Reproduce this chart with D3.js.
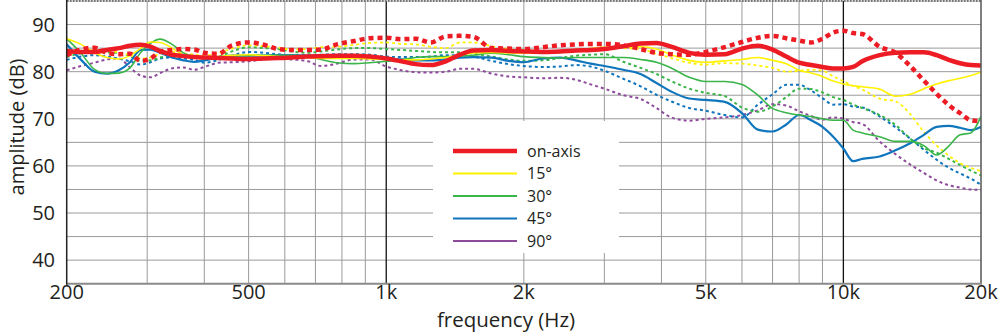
<!DOCTYPE html>
<html><head><meta charset="utf-8">
<script src="https://cdn.jsdelivr.net/npm/d3@7"></script>
<style>html,body{margin:0;padding:0;background:#fff;}svg{display:block;}</style>
</head><body>
<svg id="chart" width="1000" height="332"></svg>
<script>
// ---------- data ----------
const freqs = [200,215,230,245,260,275,290,305,
  320,340,360,380,400,
  430,460,500,540,580,620,670,720,780,850,920,
  1000,1080,1160,1250,1350,1450,1550,1700,1850,
  2000,2200,2400,2600,2800,3000,3300,3600,3900,4200,4600,
  5000,5500,6000,6500,7000,7500,8000,8500,9000,9500,
  10000,10500,11000,12000,13000,14000,15000,16000,17000,18000,19000,20000];

const redSolid = [84.4,84.2,84.2,84.6,85.0,85.5,85.7,85.3,
  84.4,83.6,83.3,83.1,83.0,
  82.9,82.8,82.7,82.8,82.9,83.0,83.2,83.3,83.4,83.4,83.2,
  82.8,82.2,81.6,81.4,82.2,83.6,84.5,84.6,84.4,
  84.3,84.2,84.3,84.5,84.6,84.8,85.4,86.0,86.1,85.3,84.0,
  83.6,83.7,84.9,85.5,84.7,83.2,81.9,81.4,81.0,80.7,
  80.7,81.0,82.2,83.5,84.0,84.1,84.1,83.5,82.5,81.8,81.4,81.3];

const redDotted = [83.5,84.7,85.1,84.0,83.7,83.8,82.3,82.8,
  84.2,84.6,84.8,84.7,84.0,
  83.8,85.6,86.2,85.7,84.8,84.6,84.6,84.7,85.8,86.5,87.1,
  87.2,86.9,87.0,86.2,87.5,87.6,87.4,85.0,84.9,
  84.8,85.2,85.6,85.8,85.9,85.9,85.6,84.8,84.0,83.7,83.6,
  84.2,85.2,86.3,87.2,87.6,87.1,86.6,86.2,87.0,88.3,
  88.7,88.2,88.0,85.3,84.0,81.2,78.1,75.3,72.9,71.2,69.7,69.5];

const yellowSolid = [87.0,85.8,84.0,83.0,82.7,83.4,84.9,86.3,
  86.2,85.0,83.5,83.0,83.0,
  83.2,83.5,83.6,83.4,83.2,83.0,83.0,82.8,82.8,82.8,82.7,
  82.6,82.5,82.5,82.7,83.0,83.5,84.0,84.1,84.0,
  83.9,84.0,84.2,84.6,84.9,85.1,85.2,85.3,84.8,83.6,82.4,
  82.0,82.3,82.6,83.0,82.4,81.7,80.3,79.7,79.0,78.0,
  77.4,77.0,76.8,76.3,74.8,75.2,76.4,77.4,78.1,78.6,79.2,79.9];

const yellowDotted = [83.5,84.3,84.5,84.4,84.1,83.5,82.8,83.0,
  83.8,84.2,83.9,83.6,83.4,
  84.0,84.9,85.6,85.4,85.1,84.7,84.8,85.2,85.3,85.7,86.1,
  86.2,85.9,85.8,85.3,85.0,86.2,86.2,85.4,84.8,
  84.6,84.4,84.3,84.5,84.9,85.2,85.0,84.8,83.8,82.9,81.9,
  81.5,81.8,81.7,81.3,80.8,80.0,80.2,80.4,80.2,79.0,
  78.0,77.0,76.2,74.3,73.7,71.0,67.2,64.3,62.2,60.6,59.6,58.9];

const greenSolid = [87.0,83.9,80.5,79.6,79.7,80.8,84.0,86.0,
  86.9,85.8,84.0,83.2,83.0,
  83.1,83.3,83.4,83.5,83.5,83.5,83.2,82.6,81.9,81.7,81.9,
  82.2,82.6,83.0,83.2,83.2,83.3,83.5,83.9,83.6,
  83.2,83.0,82.9,83.0,83.0,83.0,83.0,82.6,82.0,80.8,78.8,
  77.9,77.9,77.3,75.0,72.2,71.3,70.8,70.5,70.0,69.7,
  69.7,67.6,67.0,66.2,65.2,65.2,64.3,62.3,64.2,66.6,67.0,70.5];

const greenDotted = [83.1,83.9,84.2,84.1,84.0,83.3,82.3,82.4,
  83.0,83.5,83.5,83.4,82.8,
  83.2,84.3,85.2,85.0,84.8,84.3,84.0,84.3,84.7,85.0,85.0,
  84.8,84.6,84.4,84.2,84.1,84.1,83.8,83.2,82.6,
  82.3,82.4,82.9,83.4,83.6,83.7,82.1,80.8,79.5,78.0,76.4,
  75.5,74.8,72.4,71.5,72.6,74.6,76.4,76.3,75.6,74.6,
  74.0,73.0,72.3,70.8,68.7,65.8,63.8,62.8,61.5,60.2,59.0,58.0];

const blueSolid = [85.8,82.5,80.0,79.6,80.3,82.0,84.6,84.7,
  84.0,83.0,82.4,82.1,82.4,
  83.0,83.4,83.4,83.4,83.5,83.5,83.4,83.4,83.3,83.3,83.1,
  82.8,82.6,82.4,82.4,82.6,83.0,83.1,83.0,82.3,
  82.0,82.8,83.0,82.4,81.7,81.2,80.4,79.5,77.6,75.8,74.3,
  74.0,73.6,71.2,67.7,67.3,68.8,70.8,69.7,68.3,66.2,
  63.7,61.0,61.5,62.0,63.3,64.8,66.6,68.3,68.5,68.1,67.6,68.3];

const blueDotted = [82.5,83.2,83.5,83.2,82.8,82.2,81.5,82.0,
  82.8,83.0,82.8,82.5,81.9,
  82.5,83.4,84.2,84.0,83.7,83.5,83.5,83.6,83.7,83.7,83.6,
  83.2,83.1,83.1,83.2,83.5,83.5,83.2,82.3,81.6,
  81.2,81.0,81.1,81.4,81.1,80.2,78.5,76.9,75.1,73.7,72.3,
  71.7,70.8,70.3,73.0,75.2,77.2,77.2,76.0,74.4,73.0,
  73.1,72.6,72.4,70.5,68.2,65.8,63.4,61.3,59.6,58.4,57.3,56.0];

const purpleDotted = [80.3,81.2,81.9,82.6,82.8,80.9,79.2,78.8,
  79.7,80.7,80.9,80.4,81.0,
  81.9,82.0,82.2,82.6,82.9,82.6,82.3,81.2,81.7,82.6,82.6,
  81.1,80.3,79.9,79.8,80.0,80.6,80.6,79.6,79.0,
  78.8,78.6,78.7,78.3,77.3,76.4,75.0,74.2,72.3,70.3,69.6,
  70.0,70.3,70.8,71.8,73.1,72.8,71.6,70.6,69.8,70.3,
  70.0,69.3,68.9,65.2,62.5,60.3,58.5,56.9,55.9,55.4,55.0,54.9];

const legendLabels = ["on-axis","15°","30°","45°","90°"];
const legendColors = ["#ed1c24","#fff200","#3ab54a","#0f75bc","#8e4b9c"];

const xTicks = [200,500,1000,2000,5000,10000,20000];
const xTickLabels = ["200","500","1k","2k","5k","10k","20k"];
const yTicks = [40,50,60,70,80,90];
const xGrid = [300,400,500,600,700,800,900,2000,3000,4000,5000,6000,7000,8000,9000];
const xMajor = [1000,10000];
const yGrid = [40,45,50,55,60,65,70,75,80,85,90];

// ---------- drawing ----------
const svg = d3.select("#chart");
const L = 66.7, R = 981, T = 1, B = 283.7;
const x = d3.scaleLog().domain([200,20000]).range([L,R]);
const y = d3.scaleLinear().domain([35,95]).range([B,T]);
const font = "'Open Sans', 'DejaVu Sans', sans-serif";
const textCol = "#231f20";

// grid
const g = svg.append("g");
g.selectAll(".yg").data(yGrid).enter().append("line")
  .attr("x1",L).attr("x2",R).attr("y1",d=>y(d)).attr("y2",d=>y(d))
  .attr("stroke","#9a9a9a").attr("stroke-width",1);
g.selectAll(".xg").data(xGrid).enter().append("line")
  .attr("x1",d=>x(d)).attr("x2",d=>x(d)).attr("y1",T).attr("y2",B)
  .attr("stroke","#9a9a9a").attr("stroke-width",1);

// legend box (white, masks grid)
const lgX = 433, lgY = 121, lgW = 186, lgH = 132;
svg.append("rect").attr("x",lgX).attr("y",lgY).attr("width",lgW).attr("height",lgH).attr("fill","#fff");

// major vertical lines
g.selectAll(".xm").data(xMajor).enter().append("line")
  .attr("x1",d=>x(d)).attr("x2",d=>x(d)).attr("y1",T).attr("y2",B)
  .attr("stroke","#111").attr("stroke-width",1.3);

// clip
svg.append("clipPath").attr("id","clip").append("rect")
  .attr("x",L).attr("y",T).attr("width",R-L).attr("height",B-T);

const line = vals => d3.line()
  .x((d,i)=>x(freqs[i])).y(d=>y(d))
  .curve(d3.curveMonotoneX)(vals);

const series = [
  {v:purpleDotted, c:"#8e4b9c", w:2, dash:"3,3"},
  {v:blueDotted,   c:"#0f75bc", w:2, dash:"3,3"},
  {v:greenDotted,  c:"#3ab54a", w:2, dash:"3,3"},
  {v:yellowDotted, c:"#fff200", w:1.8, dash:"3,3"},
  {v:blueSolid,    c:"#0f75bc", w:2.2, dash:null},
  {v:greenSolid,   c:"#3ab54a", w:1.6, dash:null},
  {v:yellowSolid,  c:"#fff200", w:1.6, dash:null},
  {v:redSolid,     c:"#ed1c24", w:4.5, dash:null},
  {v:redDotted,    c:"#ed1c24", w:4.5, dash:"5,4"}
];
const pg = svg.append("g").attr("clip-path","url(#clip)");
series.forEach(s=>{
  const p = pg.append("path").attr("d",line(s.v)).attr("fill","none")
    .attr("stroke",s.c).attr("stroke-width",s.w).attr("stroke-linejoin","round");
  if (s.dash) p.attr("stroke-dasharray",s.dash);
});

// borders
svg.append("line").attr("x1",L).attr("x2",R).attr("y1",1).attr("y2",1)
  .attr("stroke","#777").attr("stroke-width",2).attr("stroke-dasharray","2,1");
svg.append("line").attr("x1",R).attr("x2",R).attr("y1",0).attr("y2",B)
  .attr("stroke","#555").attr("stroke-width",1.5);
svg.append("line").attr("x1",L).attr("x2",R+1).attr("y1",B).attr("y2",B)
  .attr("stroke","#8a8a8a").attr("stroke-width",2);
svg.append("line").attr("x1",L).attr("x2",L).attr("y1",0).attr("y2",B+1)
  .attr("stroke","#222").attr("stroke-width",1.5);

// tick labels
svg.selectAll(".yt").data(yTicks).enter().append("text")
  .attr("x",55).attr("y",d=>y(d)).attr("dy","0.36em").attr("text-anchor","end")
  .attr("font-family",font).attr("font-size",20).attr("fill",textCol).text(d=>d);
svg.selectAll(".xt").data(xTicks).enter().append("text")
  .attr("x",d=>x(d)).attr("y",299).attr("text-anchor","middle")
  .attr("font-family",font).attr("font-size",20).attr("fill",textCol)
  .text((d,i)=>xTickLabels[i]);

// axis titles
svg.append("text").attr("x",506).attr("y",327).attr("text-anchor","middle")
  .attr("font-family",font).attr("font-size",20.5).attr("fill",textCol).text("frequency (Hz)");
svg.append("text").attr("transform","translate(24,127) rotate(-90)").attr("text-anchor","middle")
  .attr("font-family",font).attr("font-size",20).attr("fill",textCol).text("amplitude (dB)");

// legend
const rows = [151,173.5,196,218.5,241];
legendLabels.forEach((lab,i)=>{
  svg.append("line").attr("x1",453).attr("x2",517).attr("y1",rows[i]).attr("y2",rows[i])
    .attr("stroke",legendColors[i]).attr("stroke-width", i===0?4.5:2);
  svg.append("text").attr("x",527).attr("y",rows[i]).attr("dy","0.35em")
    .attr("font-family",font).attr("font-size",16).attr("fill",textCol).text(lab);
});
</script>
</body></html>
